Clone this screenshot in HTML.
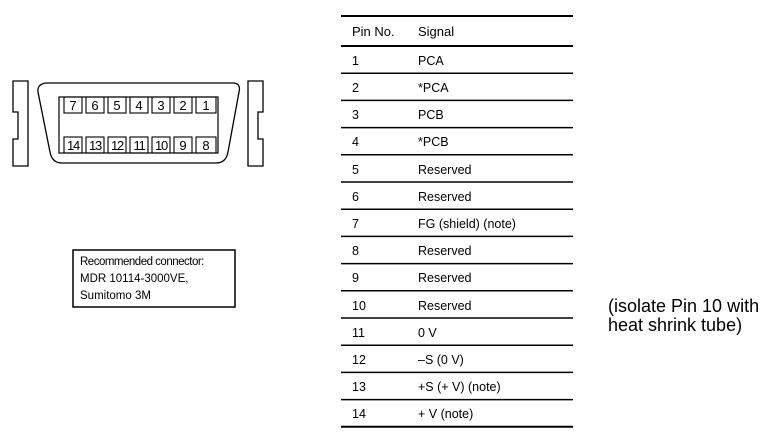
<!DOCTYPE html>
<html><head><meta charset="utf-8"><style>
html,body{margin:0;padding:0;background:#fff;}
svg{display:block;font-family:"Liberation Sans",Arial,sans-serif;}
</style></head><body>
<svg width="783" height="435" viewBox="0 0 783 435" xmlns="http://www.w3.org/2000/svg">
<path d="M13,81 H28 V166 H13 V139 H18 V112 H13 Z" fill="none" stroke="#000" stroke-width="1.3"/>
<path d="M248,81 H263 V112 H258 V139 H263 V166 H248 Z" fill="none" stroke="#000" stroke-width="1.3"/>
<path d="M46,83 H234 Q241,84 239,92 L228,152 Q226,163 216,163 H62 Q52,163 50,152 L38,92 Q37,84 46,83 Z" fill="none" stroke="#000" stroke-width="1.3"/>
<rect x="59" y="97" width="159" height="56" fill="none" stroke="#000" stroke-width="1.2"/>
<g font-size="13" text-anchor="middle" fill="#000" stroke="none">
<g fill="none" stroke="#000" stroke-width="1.1">
<rect x="64" y="97" width="18" height="16"/><rect x="86" y="97" width="18" height="16"/><rect x="108" y="97" width="18" height="16"/><rect x="130" y="97" width="18" height="16"/><rect x="152" y="97" width="18" height="16"/><rect x="174" y="97" width="18" height="16"/><rect x="196" y="97" width="20" height="16"/>
<rect x="64" y="137" width="18" height="16"/><rect x="86" y="137" width="18" height="16"/><rect x="108" y="137" width="18" height="16"/><rect x="130" y="137" width="18" height="16"/><rect x="152" y="137" width="18" height="16"/><rect x="174" y="137" width="18" height="16"/><rect x="196" y="137" width="20" height="16"/>
</g>
<text x="73" y="110">7</text><text x="95" y="110">6</text><text x="117" y="110">5</text><text x="139" y="110">4</text><text x="161" y="110">3</text><text x="183" y="110">2</text><text x="206" y="110">1</text>
<text x="73" y="150" letter-spacing="-1.2">14</text><text x="95" y="150" letter-spacing="-1.2">13</text><text x="117" y="150" letter-spacing="-1.2">12</text><text x="139" y="150" letter-spacing="-1.2">11</text><text x="161" y="150" letter-spacing="-1.2">10</text><text x="183" y="150">9</text><text x="206" y="150">8</text>
</g>
<rect x="73" y="250" width="162" height="57" fill="none" stroke="#000" stroke-width="1.5"/>
<g font-size="11.5" fill="#000">
<text x="80" y="265" letter-spacing="-0.5">Recommended connector:</text>
<text x="80" y="282">MDR 10114-3000VE,</text>
<text x="80" y="299">Sumitomo 3M</text>
</g>
<g stroke="#000">
<line x1="341" y1="16" x2="573" y2="16" stroke-width="2"/>
<line x1="341" y1="46" x2="573" y2="46" stroke-width="2"/>
<line x1="341" y1="73.2" x2="573" y2="73.2" stroke-width="1.5"/>
<line x1="341" y1="100.4" x2="573" y2="100.4" stroke-width="1.5"/>
<line x1="341" y1="127.6" x2="573" y2="127.6" stroke-width="1.5"/>
<line x1="341" y1="154.8" x2="573" y2="154.8" stroke-width="1.5"/>
<line x1="341" y1="182" x2="573" y2="182" stroke-width="1.5"/>
<line x1="341" y1="209.2" x2="573" y2="209.2" stroke-width="1.5"/>
<line x1="341" y1="236.4" x2="573" y2="236.4" stroke-width="1.5"/>
<line x1="341" y1="263.6" x2="573" y2="263.6" stroke-width="1.5"/>
<line x1="341" y1="290.8" x2="573" y2="290.8" stroke-width="1.5"/>
<line x1="341" y1="318" x2="573" y2="318" stroke-width="1.5"/>
<line x1="341" y1="345.2" x2="573" y2="345.2" stroke-width="1.5"/>
<line x1="341" y1="372.4" x2="573" y2="372.4" stroke-width="1.5"/>
<line x1="341" y1="399.6" x2="573" y2="399.6" stroke-width="1.5"/>
<line x1="341" y1="426.8" x2="573" y2="426.8" stroke-width="2"/>
</g>
<g font-size="12.5" fill="#000">
<text x="352" y="36" font-size="13">Pin No.</text><text x="418" y="36" font-size="13">Signal</text>
<text x="352" y="65">1</text><text x="418" y="65">PCA</text>
<text x="352" y="92">2</text><text x="418" y="92">*PCA</text>
<text x="352" y="119">3</text><text x="418" y="119">PCB</text>
<text x="352" y="146">4</text><text x="418" y="146">*PCB</text>
<text x="352" y="174">5</text><text x="418" y="174">Reserved</text>
<text x="352" y="201">6</text><text x="418" y="201">Reserved</text>
<text x="352" y="228">7</text><text x="418" y="228">FG (shield) (note)</text>
<text x="352" y="255">8</text><text x="418" y="255">Reserved</text>
<text x="352" y="282">9</text><text x="418" y="282">Reserved</text>
<text x="352" y="310">10</text><text x="418" y="310">Reserved</text>
<text x="352" y="337">11</text><text x="418" y="337">0 V</text>
<text x="352" y="364">12</text><text x="418" y="364">–S (0 V)</text>
<text x="352" y="391">13</text><text x="418" y="391">+S (+ V) (note)</text>
<text x="352" y="418">14</text><text x="418" y="418">+ V (note)</text>
</g>
<g font-size="18" fill="#000">
<text x="608" y="312">(isolate Pin 10 with</text>
<text x="608" y="331">heat shrink tube)</text>
</g>
</svg>
</body></html>
